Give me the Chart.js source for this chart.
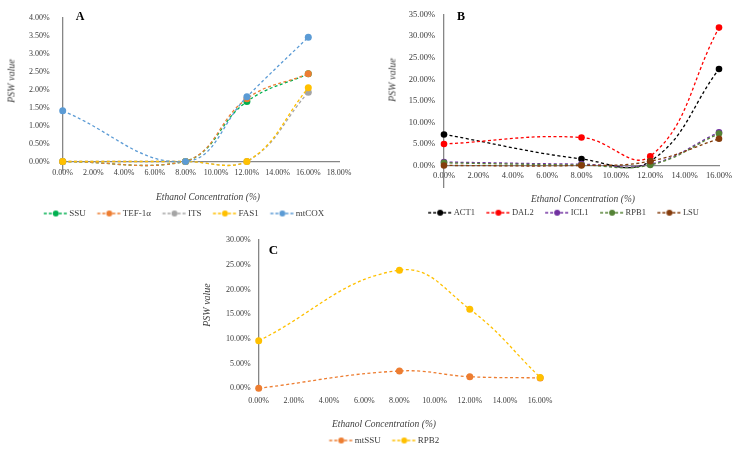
<!DOCTYPE html>
<html>
<head>
<meta charset="utf-8">
<script src="https://cdn.jsdelivr.net/npm/chart.js@4.4.1/dist/chart.umd.min.js"></script>
<style>
  body { margin: 0; width: 740px; height: 452px; overflow: hidden; background: #fff; position: relative; }
  canvas { position: absolute; }
  .t { position: absolute; transform: translate(-50%, -50%); white-space: nowrap; color: #404040;
       font-family: "Liberation Serif", "Times New Roman", serif; }
  .panel { font-weight: bold; color: #000; font-size: 12px; }
  .xt { font-style: italic; font-size: 9.5px; }
  .yt { font-style: italic; font-size: 10px; transform: translate(-50%, -50%) rotate(-90deg); }
</style>
</head>
<body>
<canvas id="chartA" width="365" height="228" style="left:0;top:0"></canvas>
<canvas id="chartB" width="370" height="227" style="left:370px;top:0"></canvas>
<canvas id="chartC" width="380" height="230" style="left:180px;top:225px"></canvas>

<div class="t panel" style="left:80px;top:15.5px">A</div>
<div class="t panel" style="left:461px;top:15.5px">B</div>
<div class="t panel" style="left:273.5px;top:249.5px;font-size:13px">C</div>
<div class="t xt" style="left:208px;top:197px">Ethanol Concentration (%)</div>
<div class="t xt" style="left:583px;top:199px">Ethanol Concentration (%)</div>
<div class="t xt" style="left:384px;top:424px">Ethanol Concentration (%)</div>
<div class="t yt" style="left:10.5px;top:80.5px">PSW value</div>
<div class="t yt" style="left:392px;top:80px">PSW value</div>
<div class="t yt" style="left:206px;top:304.5px">PSW value</div>

<script>
// ethanol concentration (%) on the x axis, PSW value (%) on y
const concA = [0, 8, 12, 16];
const ssu = [0, 0, 1.67, 2.44];
const tef1a = [0, 0, 1.75, 2.44];
const its = [0, 0, 0, 1.93];
const fas1 = [0, 0, 0, 2.05];
const mtcox = [1.41, 0, 1.80, 3.46];

const concB = [0, 8, 12, 16];
const act1 = [7.2, 1.5, 1.0, 22.4];
const dal2 = [5.0, 6.5, 2.15, 32.0];
const icl1 = [0.8, 0.3, 0.3, 7.7];
const rpb1 = [0.6, 0.1, 0.1, 7.4];
const lsu = [0, 0, 1.0, 6.2];

const concC = [0, 8, 12, 16];
const mtssu = [0, 3.5, 2.35, 2.1];
const rpb2 = [9.6, 23.9, 16.0, 2.2];

const AXIS = "#868686";
const TEXT = "#3a3a3a";
const SERIF = '"Liberation Serif", "Times New Roman", serif';

function pct(v) {
  return Number(v).toFixed(2) + "%";
}

// legend symbol: dashed line with a dot, shifted right inside the image
function marker(color, shift) {
  const c = document.createElement("canvas");
  c.width = Math.round(2 * (12 + shift));
  c.height = 8;
  const g = c.getContext("2d");
  const cx = c.width / 2 + shift;
  g.strokeStyle = color;
  g.lineWidth = 1.3;
  g.setLineDash([3, 2]);
  g.beginPath();
  g.moveTo(cx - 12, 4);
  g.lineTo(cx + 12, 4);
  g.stroke();
  g.fillStyle = color;
  g.beginPath();
  g.arc(cx, 4, 3, 0, Math.PI * 2);
  g.fill();
  return c;
}

function buildChart(id, xs, series, o) {
  const cv = document.getElementById(id);
  const pad = 4;
  const boxW = 37 - pad - o.legendSize / 2;
  const shift = boxW / 2 + o.legendSize / 2 - 13.5;
  const spacer = cv.height - o.area.bottom - (o.legendSize + pad + 10);

  return new Chart(cv, {
    type: "line",
    data: {
      datasets: series.map((s, i) => ({
        label: s.label,
        data: xs.map((x, j) => ({ x, y: s.values[j] })),
        borderColor: s.color,
        backgroundColor: s.color,
        pointBackgroundColor: s.color,
        pointBorderColor: s.color,
        borderWidth: 1.3,
        borderDash: [3, 2.5],
        pointRadius: o.dot,
        pointBorderWidth: 0,
        tension: 0.42,
        clip: false,
        order: series.length - i,
      })),
    },
    options: {
      responsive: false,
      animation: false,
      events: [],
      layout: { padding: { top: o.area.top, right: cv.width - o.area.right, left: o.legendShift, bottom: 0 } },
      scales: {
        x: {
          type: "linear",
          min: 0,
          max: o.xMax,
          position: { y: 0 },
          grid: { display: false, drawTicks: false },
          border: { display: o.xLine, color: AXIS, width: 1.2 },
          ticks: {
            stepSize: 2,
            padding: o.xPad,
            autoSkip: false,
            maxRotation: 0,
            color: TEXT,
            font: { family: SERIF, size: o.tick },
            callback: (v) => pct(v),
          },
        },
        y: {
          type: "linear",
          min: o.yMin,
          max: o.yMax,
          afterBuildTicks: (s) => {
            s.ticks = s.ticks.filter((t) => t.value >= 0);
          },
          afterFit: (s) => {
            s.width = o.area.left - o.legendShift;
          },
          grid: { display: false, drawTicks: false },
          border: { display: true, color: AXIS, width: 1.3 },
          ticks: {
            stepSize: o.yStep,
            padding: o.yPad,
            autoSkip: false,
            color: TEXT,
            font: { family: SERIF, size: o.tick },
            callback: (v) => pct(v),
          },
        },
      },
      plugins: {
        tooltip: { enabled: false },
        legend: {
          position: "bottom",
          title: { display: true, text: "", font: { size: 1, lineHeight: 1 }, padding: { top: 0, bottom: spacer - 1 } },
          labels: {
            usePointStyle: true,
            pointStyleWidth: boxW,
            padding: pad,
            color: TEXT,
            font: { family: SERIF, size: o.legendSize },
            generateLabels: (chart) => {
              const items = Chart.defaults.plugins.legend.labels.generateLabels(chart);
              items.sort((a, b) => a.datasetIndex - b.datasetIndex);
              items.forEach((it) => {
                it.pointStyle = marker(chart.data.datasets[it.datasetIndex].borderColor, shift);
              });
              return items;
            },
          },
        },
      },
    },
  });
}

buildChart("chartA", concA, [
  { label: "SSU", values: ssu, color: "#00b050" },
  { label: "TEF-1α", values: tef1a, color: "#ed7d31" },
  { label: "ITS", values: its, color: "#a5a5a5" },
  { label: "FAS1", values: fas1, color: "#ffc000" },
  { label: "mtCOX", values: mtcox, color: "#5b9bd5" },
], {
  area: { left: 62.7, right: 339, top: 14, bottom: 170.5 },
  xMax: 18, yMin: -0.25, yMax: 4, yStep: 0.5, legendShift: 21.6,
  tick: 8, xPad: 6.5, yPad: 13, legendSize: 9, dot: 3.5, xLine: true,
});

buildChart("chartB", concB, [
  { label: "ACT1", values: act1, color: "#000000" },
  { label: "DAL2", values: dal2, color: "#ff0000" },
  { label: "ICL1", values: icl1, color: "#7030a0" },
  { label: "RPB1", values: rpb1, color: "#548235" },
  { label: "LSU", values: lsu, color: "#843c0c" },
], {
  area: { left: 74, right: 349, top: 14.7, bottom: 187 },
  xMax: 16, yMin: -5, yMax: 35, yStep: 5, legendShift: 30.6,
  tick: 8.5, xPad: 5.5, yPad: 9, legendSize: 8.5, dot: 3.3, xLine: true,
});

buildChart("chartC", concC, [
  { label: "mtSSU", values: mtssu, color: "#ed7d31" },
  { label: "RPB2", values: rpb2, color: "#ffc000" },
], {
  area: { left: 78.7, right: 363, top: 15, bottom: 163.3 },
  xMax: 16, yMin: 0, yMax: 30, yStep: 5, legendShift: 38,
  tick: 8, xPad: 7.5, yPad: 8, legendSize: 9, dot: 3.5, xLine: false,
});
</script>
</body>
</html>
